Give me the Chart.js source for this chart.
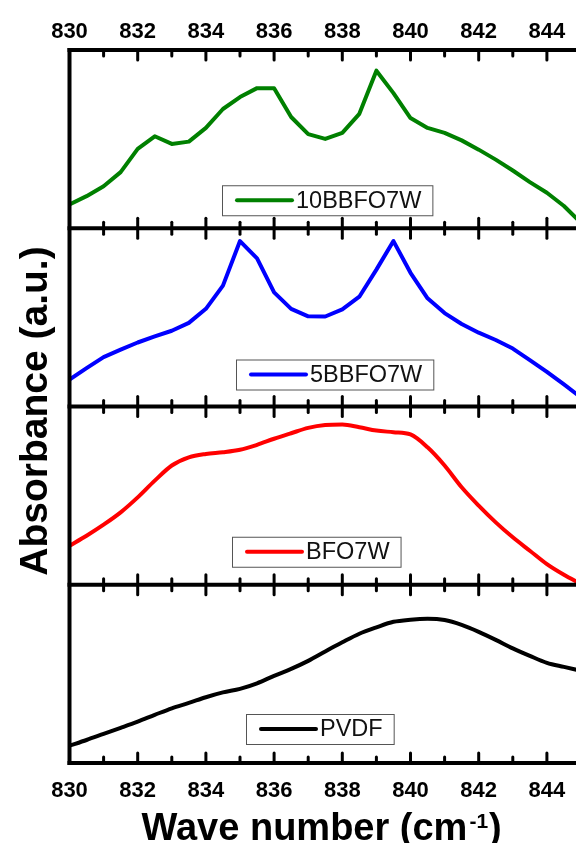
<!DOCTYPE html>
<html>
<head>
<meta charset="utf-8">
<script src="https://cdn.jsdelivr.net/npm/chart.js@4.4.0/dist/chart.umd.min.js"></script>
<style>
  html, body { margin: 0; padding: 0; background: #fff; overflow: hidden; }
  #wrap { position: relative; width: 600px; height: 843px; }
</style>
</head>
<body>
<div id="wrap"><canvas id="c" width="600" height="843"></canvas></div>
<script>
// FTIR absorbance around 830-845 cm^-1, one stacked panel per sample
const wavenumbers = [830, 830.5, 831, 831.5, 832, 832.5, 833, 833.5, 834, 834.5,
                     835, 835.5, 836, 836.5, 837, 837.5, 838, 838.5, 839, 839.5,
                     840, 840.5, 841, 841.5, 842, 842.5, 843, 843.5, 844, 844.5, 845];

const bbfo10 = [13.4, 18.0, 23.6, 31.5, 44.5, 51.6, 47.3, 48.6, 56.3, 66.9,
                73.6, 78.6, 78.6, 62.4, 52.8, 50.1, 53.5, 64.2, 88.4, 75.8,
                61.8, 56.3, 53.5, 49.3, 44.1, 38.5, 32.4, 25.9, 19.9, 12.5, 3.0];

const bbfo5 = [15.1, 21.5, 27.7, 31.9, 35.9, 39.3, 42.5, 46.9, 54.8, 67.8,
               92.8, 83.1, 64.0, 54.8, 50.6, 50.5, 54.5, 61.6, 76.8, 92.8,
               75.0, 60.7, 52.4, 46.3, 41.4, 37.3, 32.5, 26.0, 19.4, 12.4, 5.1];

const bfo7w = [21.9, 27.5, 33.7, 40.6, 49.0, 58.4, 66.9, 71.5, 73.4, 74.3,
               75.7, 78.5, 81.9, 85.0, 88.0, 89.6, 89.9, 88.4, 86.5, 85.6,
               84.3, 77.1, 66.9, 54.7, 44.4, 35.0, 26.6, 19.1, 11.6, 5.6, 0.4];

const pvdf = [9.7, 12.9, 16.3, 19.7, 23.2, 27.0, 30.7, 33.7, 36.9, 39.6,
              41.6, 44.7, 48.9, 52.8, 57.3, 62.6, 67.7, 72.5, 76.1, 79.2,
              80.4, 80.9, 80.2, 77.5, 73.6, 69.1, 64.3, 60.1, 56.2, 53.9, 51.7];

const majorTicks = [830, 832, 834, 836, 838, 840, 842, 844];
const minorTicks = [831, 833, 835, 837, 839, 841, 843, 845];

// panels listed bottom to top (first stacked axis sits at the bottom)
const seriesNames = ['PVDF', 'BFO7W', '5BBFO7W', '10BBFO7W'];
const seriesValues = [pvdf, bfo7w, bbfo5, bbfo10];
const seriesColors = ['#000000', '#ff0000', '#0000ff', '#008000'];
const panelIds = ['yPVDF', 'yBFO', 'y5BB', 'y10BB'];

const FONT = '"Liberation Sans", Arial, sans-serif';

function points(values) {
  return wavenumbers.map((w, i) => ({ x: w, y: values[i] }));
}

const datasets = seriesNames.map((name, i) => ({
  label: name,
  data: points(seriesValues[i]),
  yAxisID: panelIds[i],
  borderColor: seriesColors[i],
  backgroundColor: seriesColors[i],
  borderWidth: 4,
  pointRadius: 0,
  tension: (i < 2) ? 0.4 : 0,
  cubicInterpolationMode: (i < 2) ? 'monotone' : 'default',
  borderJoinStyle: 'round'
}));

function xAxis(position, padding, height) {
  return {
    type: 'linear', position: position, min: 830, max: 845,
    afterBuildTicks(s) { s.ticks = majorTicks.map(v => ({ value: v })); },
    grid: { display: false },
    border: { display: false },
    ticks: { color: '#000', font: { family: FONT, size: 22, weight: 'bold' },
             padding: padding, maxRotation: 0, autoSkip: false },
    afterFit(s) { s.height = height; }
  };
}

const scales = { x: xAxis('bottom', 7, 80), xTop: xAxis('top', -3, 50) };
panelIds.forEach(id => {
  scales[id] = {
    type: 'linear', position: 'left', stack: 'panels', stackWeight: 1,
    min: 0, max: 100,
    ticks: { display: false },
    grid: { display: false },
    border: { display: false },
    afterFit(s) { s.width = 0; }
  };
});

// frame, panel dividers and inward tick marks on every panel edge
const framePlugin = {
  id: 'panelFrame',
  afterDatasetsDraw(chart) {
    const { ctx, chartArea: a, scales: sc } = chart;
    const x = sc.x;
    ctx.save();
    ctx.strokeStyle = '#000';
    const seg = (x1, y1, x2, y2) => { ctx.beginPath(); ctx.moveTo(x1, y1); ctx.lineTo(x2, y2); ctx.stroke(); };
    ctx.lineWidth = 3;
    ctx.lineCap = 'round';
    panelIds.forEach(id => {
      const p = sc[id];
      const mark = (v, len) => {
        const px = x.getPixelForValue(v);
        seg(px, p.top, px, p.top + len);
        seg(px, p.bottom, px, p.bottom - len);
      };
      majorTicks.forEach(v => mark(v, 10));
      minorTicks.forEach(v => mark(v, 6));
    });
    ctx.lineWidth = 4;
    ctx.lineCap = 'square';
    seg(a.left, a.top, a.left, a.bottom);
    seg(a.left, a.top, a.right, a.top);
    seg(a.right, a.top, a.right, a.bottom);
    panelIds.forEach(id => seg(a.left, sc[id].bottom, a.right, sc[id].bottom));
    ctx.restore();
  }
};

// boxed legend inside each panel
const panelLegendPlugin = {
  id: 'panelLegend',
  afterDraw(chart, args, opts) {
    const { ctx, scales: sc } = chart;
    ctx.save();
    ctx.font = '23.5px ' + FONT;
    ctx.textBaseline = 'middle';
    panelIds.forEach((id, i) => {
      const p = sc[id];
      const place = opts.boxes[i];
      const tw = ctx.measureText(seriesNames[i]).width;
      const h = 30;
      const left = place.left;
      const bottom = p.bottom - place.gap;
      const top = bottom - h;
      const w = 15 + 55 + 4 + tw + 11;
      ctx.fillStyle = '#fff';
      ctx.fillRect(left, top, w, h);
      ctx.strokeStyle = '#555';
      ctx.lineWidth = 1;
      ctx.strokeRect(left + 0.5, top + 0.5, w, h);
      const cy = top + h / 2;
      ctx.strokeStyle = seriesColors[i];
      ctx.lineWidth = 4;
      ctx.lineCap = 'round';
      ctx.beginPath();
      ctx.moveTo(left + 15, cy);
      ctx.lineTo(left + 70, cy);
      ctx.stroke();
      ctx.fillStyle = '#111';
      ctx.textAlign = 'left';
      ctx.fillText(seriesNames[i], left + 74, cy + 1);
    });
    ctx.restore();
  }
};

// axis titles
const titlePlugin = {
  id: 'axisTitles',
  afterDraw(chart) {
    const { ctx, chartArea: a } = chart;
    ctx.save();
    ctx.fillStyle = '#000';
    ctx.textBaseline = 'alphabetic';
    // x title with superscript
    const base = 840;
    let xx = a.left + 72;
    ctx.font = 'bold 38px ' + FONT;
    ctx.textAlign = 'left';
    const main = 'Wave number (cm';
    ctx.fillText(main, xx, base);
    xx += ctx.measureText(main).width + 2;
    ctx.font = 'bold 21px ' + FONT;
    ctx.fillText('-1', xx, base - 12);
    xx += ctx.measureText('-1').width + 1;
    ctx.font = 'bold 38px ' + FONT;
    ctx.fillText(')', xx, base);
    // y title
    ctx.translate(47, 411);
    ctx.rotate(-Math.PI / 2);
    ctx.font = 'bold 39px ' + FONT;
    ctx.textAlign = 'center';
    ctx.fillText('Absorbance (a.u.)', 0, 0);
    ctx.restore();
  }
};

const whiteBg = {
  id: 'whiteBg',
  beforeDraw(chart) {
    const { ctx, width, height } = chart;
    ctx.save();
    ctx.fillStyle = '#fff';
    ctx.fillRect(0, 0, width, height);
    ctx.restore();
  }
};

new Chart(document.getElementById('c'), {
  type: 'line',
  data: { datasets },
  options: {
    responsive: false,
    animation: false,
    devicePixelRatio: 1,
    layout: { padding: { left: 69.5, right: 19, top: 0, bottom: 0 } },
    plugins: {
      legend: { display: false },
      tooltip: { enabled: false },
      panelLegend: {
        boxes: [
          { left: 246, gap: 19 },
          { left: 232, gap: 18 },
          { left: 236, gap: 17 },
          { left: 222, gap: 13 }
        ]
      }
    },
    scales
  },
  plugins: [whiteBg, framePlugin, panelLegendPlugin, titlePlugin]
});
</script>
</body>
</html>
